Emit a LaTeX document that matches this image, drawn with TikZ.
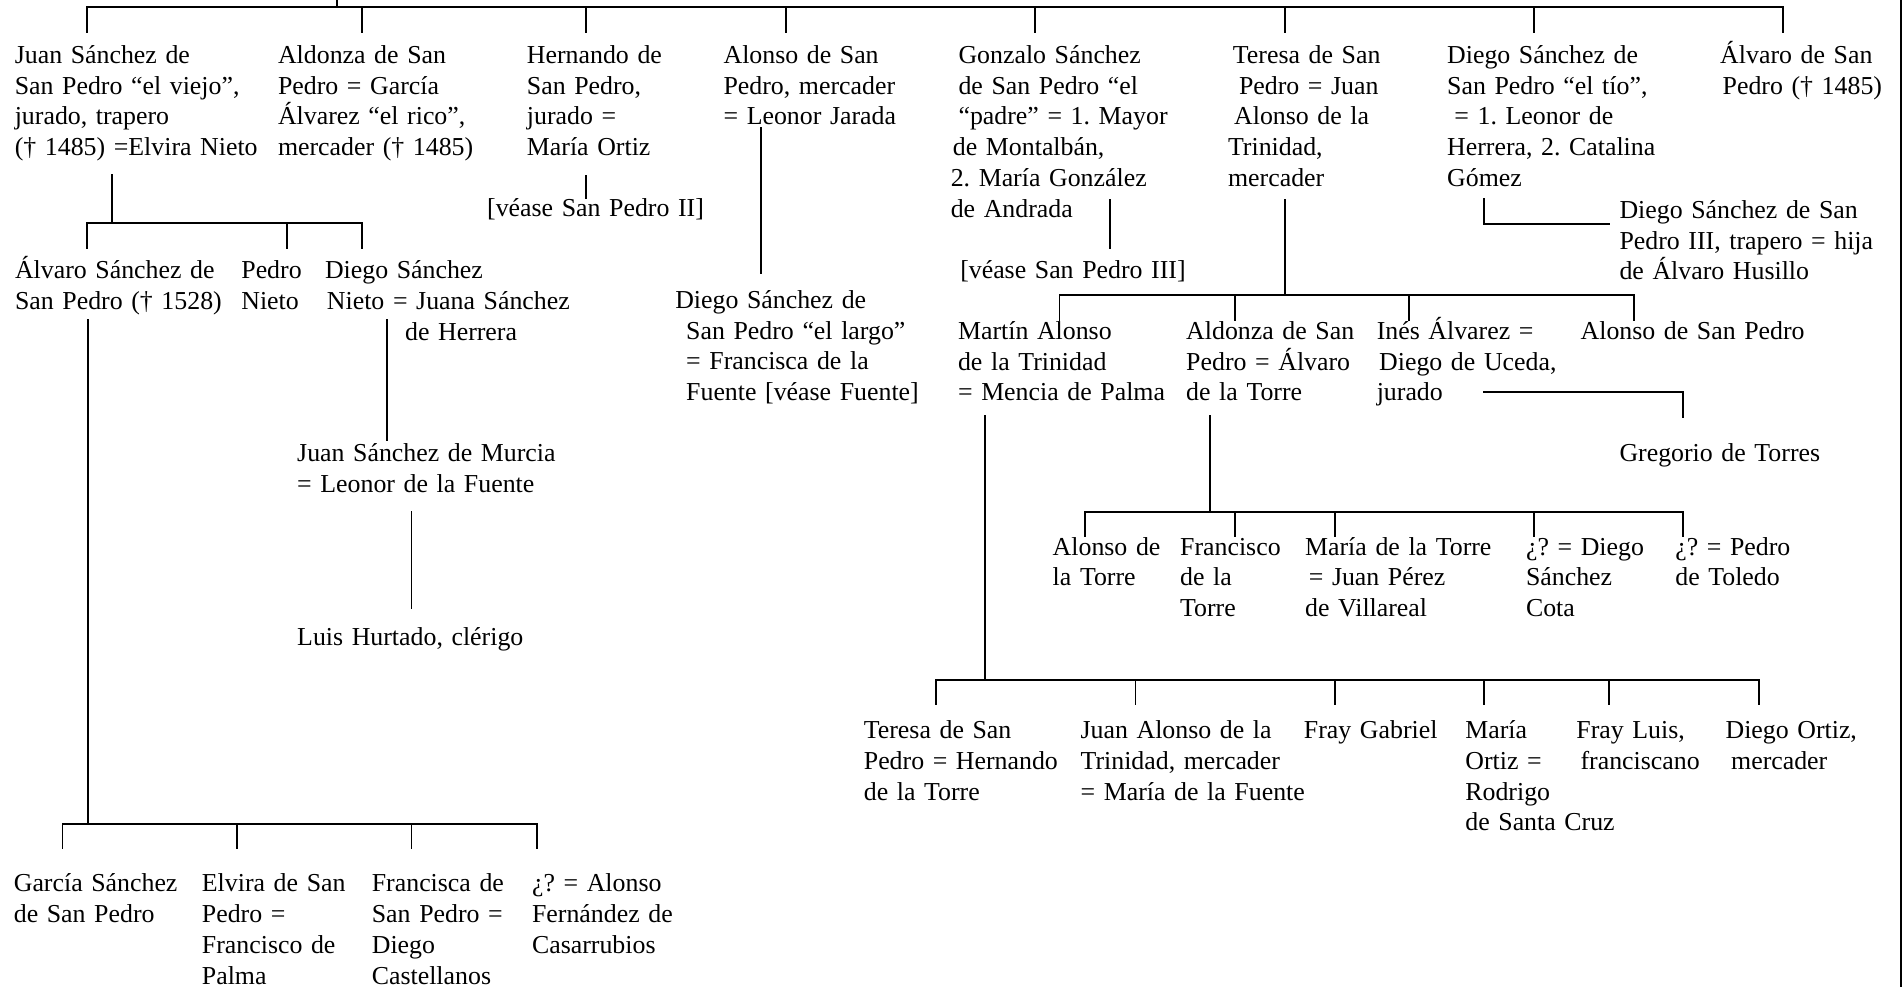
\documentclass[tikz,border=0pt]{standalone}
\usepackage{fontspec}
\setmainfont{Liberation Serif}
\frenchspacing
\newcommand\chartfont{\fontsize{10.65}{12.67}\selectfont}
\tikzset{
  pers/.style={anchor=base west,inner sep=0pt,text width=130pt,align=left,font=\chartfont},
  bus/.style={line width=0.75pt,line cap=rect}
}
\begin{document}
\begin{tikzpicture}[x=0.5pt,y=-0.5pt]
\useasboundingbox (0,0) rectangle (1568,813);
% first generation
\node[pers] (juan) at (11.8,52.3) {Juan Sánchez de\\San Pedro “el viejo”,\\jurado, trapero\\(† 1485) =Elvira Nieto};
\node[pers] (aldonza) at (228.7,52.3) {Aldonza de San\\Pedro = García\\Álvarez “el rico”,\\mercader († 1485)};
\node[pers] (hernando) at (433.8,52.3) {Hernando de\\San Pedro,\\jurado =\\María Ortiz};
\node[pers] (alonso) at (595.8,52.3) {Alonso de San\\Pedro, mercader\\= Leonor Jarada};
\node[pers] (gonzalo) at (783,52.3) {\hspace*{3.2pt}Gonzalo Sánchez\\\hspace*{3.2pt}de San Pedro “el\\\hspace*{3.2pt}“padre” = 1. Mayor\\\hspace*{0.9pt}de Montalbán,\\2. María González\\de Andrada};
\node[pers] (teresa) at (1011.5,52.3) {\hspace*{2pt}Teresa de San\\\hspace*{4.5pt}Pedro = Juan\\\hspace*{2.5pt}Alonso de la\\Trinidad,\\mercader};
\node[pers] (diegotio) at (1192,52.3) {Diego Sánchez de\\San Pedro “el tío”,\\\hspace*{3pt}= 1. Leonor de\\Herrera, 2. Catalina\\Gómez};
\node[pers] (alvaro) at (1417,52.3) {Álvaro de San\\\hspace*{1pt}Pedro († 1485)};
% second generation
\node[pers] (veaseii) at (401,178.6) {[véase San Pedro II]};
\node[pers] (diegoiii) at (1334,180) {Diego Sánchez de San\\Pedro III, trapero = hija\\de Álvaro Husillo};
\node[pers] (alvarosp) at (12,229.5) {Álvaro Sánchez de\\San Pedro († 1528)};
\node[pers] (pedro) at (198.5,229.5) {Pedro\\Nieto};
\node[pers] (diegonieto) at (267.4,229.5) {Diego Sánchez\\\hspace*{0.8pt}Nieto = Juana Sánchez\\\hspace*{33pt}de Herrera};
\node[pers] (veaseiii) at (790.8,229.5) {[véase San Pedro III]};
\node[pers] (diegolargo) at (556,254) {Diego Sánchez de\\\hspace*{4.5pt}San Pedro “el largo”\\\hspace*{4.5pt}= Francisca de la\\\hspace*{4.5pt}Fuente [véase Fuente]};
\node[pers] (martin) at (789,279.7) {Martín Alonso\\de la Trinidad\\= Mencia de Palma};
\node[pers] (aldonzat) at (977,279.7) {Aldonza de San\\Pedro = Álvaro\\de la Torre};
\node[pers] (ines) at (1134,279.7) {Inés Álvarez =\\\hspace*{1pt}Diego de Uceda,\\jurado};
\node[pers] (alonsosp) at (1302,279.7) {Alonso de San Pedro};
% third generation
\node[pers] (gregorio) at (1334,380.5) {Gregorio de Torres};
\node[pers] (murcia) at (244.5,380.6) {Juan Sánchez de Murcia\\= Leonor de la Fuente};
\node[pers] (luis) at (244.5,531.6) {Luis Hurtado, clérigo};
\node[pers] (alonsot) at (867,457.4) {Alonso de\\la Torre};
\node[pers] (francisco) at (972,457.4) {Francisco\\de la\\Torre};
\node[pers] (mariat) at (1075,457.4) {María de la Torre\\\hspace*{1.5pt}= Juan Pérez\\de Villareal};
\node[pers] (cota) at (1257,457.4) {¿? = Diego\\Sánchez\\Cota};
\node[pers] (toledo) at (1380,457.4) {¿? = Pedro\\de Toledo};
\node[pers] (teresat) at (711.4,608.5) {Teresa de San\\Pedro = Hernando\\de la Torre};
\node[pers] (juanalonso) at (890,608.5) {Juan Alonso de la\\Trinidad, mercader\\= María de la Fuente};
\node[pers] (gabriel) at (1074,608.5) {Fray Gabriel};
\node[pers] (mariaortiz) at (1207,608.5) {María\\Ortiz =\\Rodrigo\\de Santa Cruz};
\node[pers] (frayluis) at (1298.5,608.5) {Fray Luis,\\\hspace*{1.7pt}franciscano};
\node[pers] (diegoortiz) at (1421.4,608.5) {Diego Ortiz,\\\hspace*{2.3pt}mercader};
\node[pers] (garcia) at (11,734.8) {García Sánchez\\de San Pedro};
\node[pers] (elvira) at (166,734.8) {Elvira de San\\Pedro =\\Francisco de\\Palma};
\node[pers] (francisca) at (306,734.8) {Francisca de\\San Pedro =\\Diego\\Castellanos};
\node[pers] (casarrubios) at (438,734.8) {¿? = Alonso\\Fernández de\\Casarrubios};
% lines of descent
\coordinate (root) at (278,0);
\coordinate (b1l) at (72,6);
\coordinate (b1r) at (1469,6);
\draw[bus] (root) -- (root |- b1l) (b1l) -- (b1r);
\foreach \x in {72,298,483,647.7,853,1058.5,1264,1469}
  \draw[bus] (\x,6) -- ++(0,20.6);
% Juan Sanchez
\coordinate (j1) at (92.5,144);
\coordinate (b2l) at (72,184);
\coordinate (b2r) at (298,184);
\draw[bus] (j1) -- (j1 |- b2l) (b2l) -- (b2r);
\foreach \x in {72,236.6,298}
  \draw[bus] (\x,184) -- ++(0,20.6);
\coordinate (h1) at (483,145);
\draw[bus] (h1) -- ++(0,18.4);
\coordinate (a1) at (626.7,105.8);
\draw[bus] (a1) -- ++(0,118.9);
\coordinate (g1) at (914.6,164.8);
\draw[bus] (g1) -- ++(0,39.8);
\coordinate (dt1) at (1223,164);
\coordinate (dt2) at (1326,184.6);
\draw[bus] (dt1) |- (dt2);
% Teresa
\coordinate (t1) at (1058.5,164.8);
\coordinate (b3l) at (873,243);
\coordinate (b3r) at (1346.6,243);
\draw[bus] (t1) -- (t1 |- b3l) (b3l) -- (b3r);
\foreach \x in {873,1017.4,1160.8,1346.6}
  \draw[bus] (\x,243) -- ++(0,20.7);
% Alvaro Sanchez
\coordinate (as1) at (72.5,263.7);
\coordinate (b4l) at (51.5,679);
\coordinate (b4r) at (442.5,679);
\draw[bus] (as1) -- (as1 |- b4l) (b4l) -- (b4r);
\foreach \x in {51.5,195.3,339,442.5}
  \draw[bus] (\x,679) -- ++(0,20);
\coordinate (dn1) at (318.8,263.7);
\draw[bus] (dn1) -- ++(0,98.9);
\coordinate (m1) at (339,421.6);
\draw[bus] (m1) -- ++(0,79.7);
% Martin Alonso
\coordinate (ma1) at (811.6,342.8);
\coordinate (b5l) at (771,560.3);
\coordinate (b5r) at (1449,560.3);
\draw[bus] (ma1) -- (ma1 |- b5l) (b5l) -- (b5r);
\foreach \x in {771,935.6,1099.7,1223,1325.8,1449}
  \draw[bus] (\x,560.3) -- ++(0,20.1);
% Aldonza
\coordinate (at1) at (997,342.8);
\coordinate (b6l) at (894,421.6);
\coordinate (b6r) at (1387,421.6);
\draw[bus] (at1) -- (at1 |- b6l) (b6l) -- (b6r);
\foreach \x in {894,1017.4,1099.7,1264,1387}
  \draw[bus] (\x,421.6) -- ++(0,20.4);
% Ines
\coordinate (i1) at (1222.4,322.7);
\coordinate (i2) at (1387,343.3);
\draw[bus] (i1) -| (i2);
\draw[bus] (1566,0) -- (1566,813);
\end{tikzpicture}
\end{document}
